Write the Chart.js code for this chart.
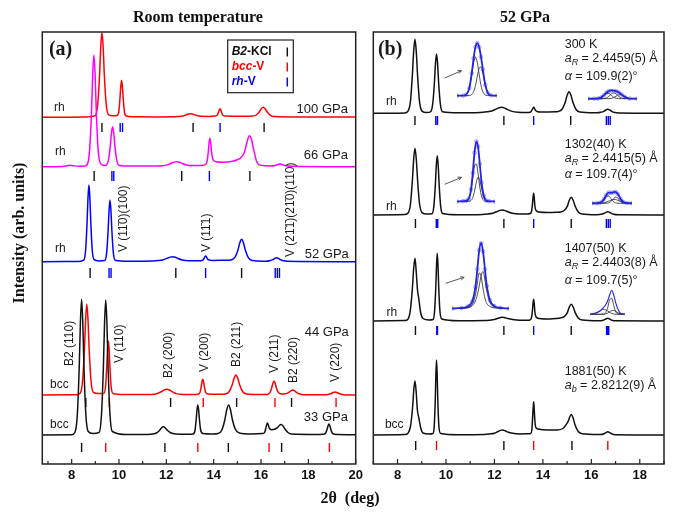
<!DOCTYPE html>
<html><head><meta charset="utf-8">
<script src="https://cdn.jsdelivr.net/npm/chart.js@4.4.1/dist/chart.umd.min.js"></script>
<style>
html,body{margin:0;padding:0;background:#fff;}
#wrap{position:relative;width:679px;height:514px;overflow:hidden;background:#fff;}
.full{position:absolute;left:0;top:0;}
.inset{position:absolute;}
</style></head><body>
<div id="wrap">
<canvas id="cA" class="full" width="679" height="514"></canvas>
<canvas id="cB" class="full" width="679" height="514"></canvas>
</div>
<script>
// ---------------- DATA ----------------
// x tick labels (2theta, deg)
const tickValsA = [8, 10, 12, 14, 16, 18, 20];
const tickValsB = [8, 10, 12, 14, 16, 18];

// Panel (a): room temperature patterns, [2theta, intensity above own baseline]
const rt100 = [[6.76,0],[8.6,0.3],[9.00,1.7],[9.10,12.8],[9.18,42.5],[9.23,70.5],[9.28,85],[9.33,70.5],[9.38,42.5],[9.46,12.8],[9.56,2.5],[9.75,1.5],[9.91,1.8],[9.99,5.5],[10.04,18.5],[10.075,30.7],[10.11,37],[10.145,30.7],[10.18,18.5],[10.23,5.5],[10.31,1.2],[10.6,0.6],[11.5,0.4],[12.3,0.6],[12.5,0.7],[12.7,1.2],[12.85,2.6],[12.95,3.3],[13.0,3.5],[13.1,3.2],[13.22,2.2],[13.45,1.0],[13.8,0.9],[14.07,1.2],[14.15,2.2],[14.2,4.8],[14.235,7.3],[14.27,8.5],[14.305,7.2],[14.34,4.5],[14.39,2],[14.5,1.2],[15.3,1],[15.64,1.2],[15.8,2.3],[15.93,5.5],[16.01,8.5],[16.09,10],[16.17,8.6],[16.25,5.8],[16.38,2.2],[16.55,0.8],[17.5,0.4],[20,0.2]];
const rt66 = [[6.76,0],[7.6,0.3],[7.8,1],[7.93,1.5],[8.06,1],[8.3,0.4],[8.55,0.8],[8.66,2.2],[8.76,16.8],[8.84,55.9],[8.89,92.7],[8.94,111.7],[8.99,92.7],[9.04,55.9],[9.12,16.8],[9.22,3],[9.35,1.5],[9.45,1.3],[9.55,6],[9.63,20],[9.68,33.2],[9.73,40],[9.78,33.2],[9.83,20],[9.91,6],[10.01,1.2],[10.5,0.6],[11.5,0.8],[11.84,1],[12.04,1.8],[12.22,3.5],[12.33,4.6],[12.44,5],[12.55,4.5],[12.66,3.3],[12.84,1.8],[13.1,1.2],[13.5,1.3],[13.64,2],[13.72,5],[13.77,14.2],[13.805,23.6],[13.84,28.4],[13.875,23.6],[13.91,14.5],[13.97,7],[14.1,5],[14.4,4.5],[14.8,5.5],[15.0,7],[15.15,9],[15.3,14.5],[15.4,24],[15.51,31],[15.6,27],[15.7,16],[15.82,5],[15.98,1.4],[16.4,0.8],[16.6,1.3],[16.8,2.7],[17.0,1.3],[17.3,0.5],[20,0]];
const rt52 = [[6.76,0],[8.3,0.3],[8.51,1.5],[8.59,11.5],[8.65,38.4],[8.69,63.7],[8.73,76.7],[8.77,63.7],[8.81,38.4],[8.87,11.5],[8.95,2],[9.15,0.8],[9.40,1.2],[9.48,9.3],[9.54,30.9],[9.58,51.2],[9.62,61.7],[9.66,51.2],[9.70,30.9],[9.76,9.3],[9.84,1.5],[10.4,0.5],[11.4,0.7],[11.67,1.2],[11.87,2],[12.05,3.6],[12.16,4.6],[12.27,5],[12.38,4.4],[12.49,3.2],[12.67,1.8],[12.95,1],[13.4,1],[13.46,1],[13.54,1.6],[13.59,3.2],[13.625,4.9],[13.66,5.7],[13.695,4.8],[13.73,3],[13.8,1.8],[13.95,1.3],[14.5,1.5],[14.73,1.7],[14.89,4],[15.02,11.2],[15.1,18.6],[15.18,22.4],[15.26,18.8],[15.34,11.5],[15.47,3.8],[15.63,1.2],[16.2,0.5],[16.37,1],[16.5,2],[16.58,3.3],[16.66,4],[16.74,3.3],[16.82,2],[16.95,0.9],[17.1,0.4],[20,0]];
const rt44 = [[6.76,0],[8.2,0.3],[8.36,1.8],[8.46,13.7],[8.54,45.5],[8.59,75.5],[8.64,91],[8.69,75.5],[8.74,45.5],[8.82,13.7],[8.92,2.5],[9.15,1.5],[9.35,1.5],[9.43,8],[9.48,27],[9.515,45],[9.55,54],[9.585,45],[9.62,27],[9.67,8],[9.75,1.5],[10.2,0.5],[11.4,0.6],[11.62,1.5],[11.8,3.5],[11.91,5.1],[12.02,5.7],[12.13,5],[12.24,3.4],[12.42,1.4],[12.7,0.6],[13.2,0.6],[13.34,0.8],[13.42,2.6],[13.47,7.9],[13.505,13],[13.54,15.7],[13.575,13],[13.61,7.9],[13.66,2.8],[13.76,1],[14.3,0.8],[14.49,1],[14.65,3.2],[14.78,10],[14.86,16.6],[14.94,20],[15.02,16.6],[15.10,10],[15.23,3.2],[15.39,1],[15.9,0.5],[16.27,0.6],[16.37,2.3],[16.45,7],[16.5,11.6],[16.55,14],[16.6,11.6],[16.65,7],[16.73,2.6],[16.83,1.2],[16.95,1],[17.05,1.4],[17.18,2.7],[17.26,4.2],[17.34,5],[17.42,4.2],[17.5,2.6],[17.63,1],[17.79,0.3],[18.6,0.2],[18.84,0.6],[18.97,1.5],[19.05,2.5],[19.13,3],[19.21,2.5],[19.29,1.5],[19.42,0.5],[19.58,0.1],[20,0]];
const rt33 = [[6.76,0],[8.0,0.3],[8.14,2.7],[8.24,20.4],[8.32,67.9],[8.37,112.6],[8.42,135.7],[8.47,112.6],[8.52,67.9],[8.60,20.4],[8.70,3.5],[8.9,1.5],[9.16,2.7],[9.26,20.3],[9.34,67.5],[9.39,112],[9.44,135],[9.49,112],[9.54,67.5],[9.62,20.3],[9.72,3.5],[10.3,0.5],[11.2,0.6],[11.42,1],[11.58,2],[11.71,4.5],[11.79,7],[11.87,8.3],[11.95,7.2],[12.03,5],[12.16,2.5],[12.4,1],[12.9,0.8],[13.13,1],[13.21,4.5],[13.26,15],[13.295,25],[13.33,30],[13.365,25],[13.40,15],[13.45,5],[13.55,1.5],[14.0,1],[14.18,1.5],[14.34,4.8],[14.47,15],[14.55,25],[14.63,30],[14.71,25.2],[14.79,15.5],[14.92,5.5],[15.08,2],[15.6,1],[16.07,1.4],[16.15,2.5],[16.2,6.5],[16.235,10],[16.27,12],[16.305,10.3],[16.35,6.8],[16.45,5.3],[16.6,6],[16.72,8],[16.78,9.8],[16.85,10.5],[16.93,9],[17.01,6],[17.14,2.5],[17.3,1],[18.2,0.6],[18.65,0.8],[18.73,2],[18.79,5.5],[18.83,9.1],[18.87,11],[18.91,9.1],[18.95,5.5],[19.01,2],[19.09,0.8],[20,0.3]];

// Panel (b): 52 GPa patterns at several temperatures
const hp300 = [[7,0],[8.3,0.4],[8.42,1.8],[8.53,11.1],[8.61,37],[8.665,61.4],[8.72,74],[8.775,61.4],[8.83,37],[8.91,11.1],[9.02,2],[9.2,0.8],[9.36,1.5],[9.45,8.9],[9.52,29.6],[9.565,49.2],[9.61,59.3],[9.655,49.2],[9.70,29.6],[9.77,8.9],[9.86,1.5],[10.5,0.5],[11.4,0.8],[11.69,1.5],[11.89,2.3],[12.07,4.2],[12.18,5.4],[12.29,6],[12.4,5.4],[12.51,4],[12.69,2.2],[12.97,1],[13.35,0.8],[13.42,0.8],[13.5,1.4],[13.55,3.3],[13.585,5],[13.62,6],[13.655,5],[13.69,3.2],[13.76,1.8],[13.95,1.2],[14.5,1.5],[14.63,1.8],[14.79,4],[14.92,10.8],[15.0,17.9],[15.08,21.6],[15.16,18],[15.24,11],[15.37,3.8],[15.53,1.2],[16.1,0.5],[16.23,0.5],[16.39,1],[16.52,2],[16.6,3.3],[16.68,4],[16.76,3.3],[16.84,2],[16.97,0.8],[17.13,0.3],[19,0]];
const hp1302 = [[7,0],[8.3,0.4],[8.42,1.7],[8.53,10],[8.61,33.4],[8.665,55.4],[8.72,66.7],[8.775,55.6],[8.83,34],[8.91,11],[9.02,2.2],[9.2,1],[9.42,1.2],[9.50,8.9],[9.56,29.6],[9.60,49.2],[9.64,59.3],[9.68,49.2],[9.72,29.6],[9.78,8.9],[9.86,1.5],[10.5,0.3],[11.5,0.6],[11.73,1],[11.93,1.8],[12.11,3.5],[12.22,4.6],[12.33,5],[12.44,4.4],[12.55,3.2],[12.73,1.8],[13.0,1],[13.35,1],[13.47,1.5],[13.53,3.5],[13.57,10.9],[13.595,18],[13.62,21.7],[13.645,17],[13.67,9],[13.72,4.5],[13.85,3],[14.2,2.5],[14.6,2.8],[14.72,3],[14.88,4.5],[15.01,8.9],[15.09,14.7],[15.17,17.7],[15.25,14.8],[15.33,9],[15.46,3],[15.62,1],[16.2,0.3],[16.45,0.9],[16.55,1.9],[16.62,2.9],[16.68,3.3],[16.74,2.9],[16.81,1.8],[16.92,0.7],[17.1,0.2],[19,0]];
const hp1407 = [[7,0],[8.3,0.4],[8.42,1.5],[8.52,9.4],[8.61,31.4],[8.665,52],[8.72,62.7],[8.77,50],[8.82,32],[8.88,22],[8.95,9],[9.05,2.5],[9.3,1],[9.47,1.5],[9.53,10],[9.58,34],[9.61,56],[9.64,67.7],[9.67,56],[9.70,34],[9.75,10],[9.83,2],[10.5,0.3],[11.6,0.5],[11.8,0.8],[12.0,1.5],[12.15,2.7],[12.25,3.4],[12.33,3.7],[12.44,3.3],[12.55,2.5],[12.75,1.5],[13.05,0.8],[13.4,0.8],[13.47,1.2],[13.53,3.2],[13.57,10.9],[13.595,18],[13.62,21.7],[13.645,17],[13.67,9],[13.72,4],[13.85,2.5],[14.3,2],[14.6,2.6],[14.72,3],[14.88,4.4],[15.01,8.4],[15.09,13.9],[15.17,16.7],[15.25,14],[15.33,8.6],[15.46,3],[15.62,1],[16.3,0.3],[16.4,0.3],[16.52,1],[16.6,2],[16.68,2.7],[16.76,2],[16.85,0.8],[17.0,0.2],[19,0]];
const hp1881 = [[7,0],[8.3,0.4],[8.42,1.5],[8.53,8],[8.62,27],[8.67,45],[8.72,54],[8.77,43],[8.82,25],[8.88,17],[8.95,8],[9.05,2],[9.3,1],[9.46,1.5],[9.51,7],[9.56,37],[9.585,62],[9.61,75],[9.635,62],[9.66,37],[9.71,8],[9.78,1.5],[10.5,0.3],[11.6,0.5],[11.8,1],[12.0,1.8],[12.15,3.5],[12.25,4.6],[12.33,5],[12.44,4.3],[12.55,3],[12.75,1.7],[13.05,1],[13.4,1.2],[13.49,1.5],[13.54,4],[13.575,16.6],[13.6,27.6],[13.62,33.3],[13.64,27],[13.665,16],[13.7,8],[13.8,6],[14.2,5],[14.6,5],[14.85,7],[14.95,10],[15.05,14],[15.1,17.5],[15.17,20.6],[15.25,17],[15.33,10],[15.46,3.5],[15.62,1.2],[16.3,0.4],[16.4,0.4],[16.52,1.2],[16.6,2.4],[16.68,3.3],[16.76,2.4],[16.85,1],[17.0,0.3],[19,0]];

// waterfall offsets (stacking) of each pattern
const offsetA = [346.7, 297.3, 202.3, 69, 29];
const offsetB = [350.7, 249, 143, 29];

// reflection positions (2theta) : B2-KCl, bcc-V, rh-V
const kcl100 = [9.28, 13.13, 16.13];  const rhV100 = [10.05, 10.15, 14.27];
const kcl66  = [8.95, 12.65, 15.53];  const rhV66  = [9.70, 9.78, 13.82];
const kcl52  = [8.78, 12.40, 15.18];  const rhV52  = [9.58, 9.665, 13.66, 16.60, 16.69, 16.78];
const kcl44  = [8.60, 12.18, 14.97, 17.29]; const bccV44 = [9.59, 13.56, 16.59, 19.17];
const kcl33  = [8.42, 11.94, 14.62, 16.87]; const bccV33 = [9.44, 13.33, 16.34, 18.89];
const kcl300  = [8.72, 12.39, 15.15]; const rhV300  = [9.58, 9.65, 13.62, 16.62, 16.70, 16.78];
const kcl1302 = [8.74, 12.39, 15.17]; const rhV1302 = [9.60, 9.66, 13.62, 16.62, 16.70, 16.78];
const kcl1407 = [8.74, 12.39, 15.17]; const rhV1407 = [9.62, 9.65, 13.62, 16.63, 16.67, 16.72];
const kcl1881 = [8.75, 12.39, 15.20]; const bccV1881 = [9.61, 13.62, 16.68];

// insets: profile fits (2theta, intensity) : envelope (obs/fit) and components
const inX1 = [9.30,9.40,9.45,9.50,9.54,9.57,9.60,9.63,9.66,9.69,9.72,9.76,9.80,9.85,9.95];
const inEnv1 = [0,0,1.1,8.7,26.1,43.4,56.8,61.3,56.6,45.2,30.4,12.5,3.2,0.3,0];
const inC1a = [0,0,1.1,8.7,24.8,38.8,45,38.8,24.8,11.8,4.2,0.7,0,0,0];
const inC1b = [0,0,0,0,1.3,4.6,11.8,22.5,31.8,33.4,26.2,11.8,3.2,0.3,0];
const inX2 = [16.30,16.40,16.46,16.51,16.56,16.60,16.64,16.68,16.72,16.76,16.80,16.85,16.90,16.98,17.10];
const inEnv2 = [0,0,0.3,1.9,6.4,10.9,13.9,15,14.9,13.7,11.5,7.6,3.2,0.2,0];
const inC2a = [0,0,0.3,1.9,6.1,9.5,9.5,6.1,2.5,0.7,0.1,0,0,0,0];
const inC2b = [0,0,0,0,0.3,1.4,4.3,8.4,10.5,8.4,4.3,1,0.1,0,0];
const inC2c = [0,0,0,0,0,0,0.1,0.5,1.9,4.6,7.1,6.6,3.1,0.2,0];
const inX3 = [9.30,9.40,9.45,9.50,9.54,9.57,9.60,9.63,9.66,9.69,9.72,9.76,9.80,9.85,9.95];
const inEnv3 = [0,0.3,0.8,3,14,33,56,69,63,43,22,6,1.2,0.3,0];
const inC3a = [0,0,0.1,2.5,12.2,26.7,40.6,43.1,32,16.5,5.9,0.9,0,0,0];
const inC3b = [0,0,0,0,1.2,4.6,12,21.9,28,24.7,15.3,4.6,0.7,0,0];
const inX4 = [16.35,16.43,16.48,16.52,16.56,16.60,16.64,16.68,16.72,16.76,16.80,16.85,16.90,16.96,17.05];
const inEnv4 = [0,0,0.5,2.2,6.8,13,17,16.6,17.2,18.2,15,7,2,0.4,0];
const inC4a = [0,0,0.3,1.6,5.2,10.1,11.6,7.7,3.1,0.7,0.1,0,0,0,0];
const inC4b = [0,0,0,0,0,0.1,0.6,2.6,6.6,9.8,8.6,3.5,0.6,0,0];
const inC4c = [0,0,0.1,0.3,0.8,1.8,3.3,4.8,5.9,5.9,4.8,2.8,1.2,0.3,0];
const inX5 = [9.20,9.35,9.45,9.52,9.57,9.60,9.63,9.66,9.69,9.72,9.75,9.80,9.87,9.97,10.10];
const inEnv5 = [0.3,0.9,2.7,8.5,25,45,67,75,65.5,45,26,9.5,3,1,0.3];
const inC5a = [0.2,0.5,1.5,5,16,29,41,37,23,12,6,2.5,1,0.4,0.1];
const inC5b = [0.1,0.4,1.2,3.5,9,16,26,38,42.5,33,20,7,2,0.6,0.2];
const inX6 = [16.45,16.52,16.57,16.61,16.64,16.67,16.70,16.73,16.76,16.79,16.82,16.85,16.88,16.92,16.95];
const inEnv6 = [0,1,2.5,4.5,6.5,9,13,19,24,19,11,5,1.5,0.3,0];
const inC6a = [0,0,0,0,0.1,1.2,6,14.2,16,8.7,2.2,0.3,0,0,0];
const inC6b = [0,0.5,2,4,4.9,4.7,3.5,2,0.9,0.3,0.1,0,0,0,0];
const inC6c = [0,0,0,0,0.1,0.4,1.1,2.4,3.7,3.9,2.9,1.5,0.5,0.1,0];

// ---------------- STYLE / LAYOUT ----------------
const RED = '#ff0000', MAG = '#ff00ff', BLUE = '#0000ff', BLK = '#111111';
const SANS = '"Liberation Sans", Arial, sans-serif';
const SERIF = '"Liberation Serif", "Times New Roman", serif';
const rowsA = [[332,341],[283,293],[186,196],[57,66],[12,21]];
const rowsB = [[339,348],[236,245],[129,138],[14,23]];
Chart.defaults.font.family = SANS;

function mkTrace(arr, off, color, order) {
  return { data: arr.map(p => ({x: p[0], y: p[1] + off})), borderColor: color, borderWidth: 1.5,
    pointRadius: 0, cubicInterpolationMode: 'monotone', fill: false, order: order };
}
function mkRefl(pos, row, color) {
  const d = [];
  pos.forEach(p => { d.push({x: p, y: row[0]}, {x: p, y: row[1]}, {x: p, y: null}); });
  return { data: d, borderColor: color, borderWidth: 1.4, pointRadius: 0, spanGaps: false, tension: 0, order: 20 };
}

function drawRich(ctx, segs, px, py) {
  let cx = px;
  segs.forEach(sg => { ctx.font = sg.f; ctx.fillText(sg.s, cx, py + (sg.dy || 0)); cx += ctx.measureText(sg.s).width; });
}

function decoPlugin(id, texts, extra) {
  return {
    id: id,
    afterDatasetsDraw(chart) {
      const ctx = chart.ctx, ca = chart.chartArea, xs = chart.scales.x, ys = chart.scales.y;
      ctx.save();
      ctx.strokeStyle = '#222'; ctx.lineWidth = 1.5;
      ctx.strokeRect(ca.left, ca.top, ca.right - ca.left, ca.bottom - ca.top);
      ctx.lineWidth = 1.2;
      for (let v = Math.ceil(xs.min); v <= xs.max; v++) {
        const px = xs.getPixelForValue(v);
        const len = v % 2 === 0 ? 5 : 3;
        ctx.beginPath(); ctx.moveTo(px, ca.bottom); ctx.lineTo(px, ca.bottom - len); ctx.stroke();
      }
      ctx.fillStyle = '#1a1a1a';
      texts.forEach(t => {
        const px = xs.getPixelForValue(t.x), py = ys.getPixelForValue(t.y);
        ctx.save();
        ctx.translate(px, py);
        if (t.rot) ctx.rotate(-Math.PI / 2);
        ctx.textAlign = t.align || 'left';
        ctx.textBaseline = t.rot ? 'middle' : 'alphabetic';
        ctx.fillStyle = t.color || '#1a1a1a';
        if (t.segs) drawRich(ctx, t.segs, 0, 0);
        else { ctx.font = t.f; ctx.fillText(t.s, 0, 0); }
        ctx.restore();
      });
      if (extra) extra(chart, ctx, ca, xs, ys);
      ctx.restore();
    }
  };
}

const f12 = '12px ' + SANS, f13 = '13px ' + SANS, fr = '12px ' + SANS, fb = '12.5px ' + SANS;
const textsA = [
  {s:'(a)', x:7.04, y:409, f:'bold 20px ' + SERIF},
  {s:'rh', x:7.25, y:353, f:f12}, {s:'100 GPa', x:19.67, y:351, f:f13, align:'right'},
  {s:'rh', x:7.30, y:309, f:f12}, {s:'66 GPa', x:19.67, y:305, f:f13, align:'right'},
  {s:'rh', x:7.30, y:212, f:f12}, {s:'52 GPa', x:19.71, y:206, f:f13, align:'right'},
  {s:'bcc', x:7.09, y:76, f:f12}, {s:'44 GPa', x:19.71, y:128, f:f13, align:'right'},
  {s:'bcc', x:7.09, y:36, f:f12}, {s:'33 GPa', x:19.67, y:43, f:f13, align:'right'},
  {s:'V (1\u0031\u03040)(100)', x:10.21, y:212, f:fr, rot:true},
  {s:'V (1\u0031\u03041)', x:13.72, y:212, f:fr, rot:true},
  {s:'V (2\u0031\u03041\u0304)(2\u0031\u03040)(110)', x:17.27, y:207, f:fr, rot:true},
  {s:'B2 (110)', x:7.93, y:98, f:fr, rot:true},
  {s:'V (110)', x:10.04, y:101, f:fr, rot:true},
  {s:'B2 (200)', x:12.11, y:86, f:fr, rot:true},
  {s:'V (200)', x:13.63, y:92, f:fr, rot:true},
  {s:'B2 (211)', x:14.98, y:97, f:fr, rot:true},
  {s:'V (211)', x:16.59, y:91, f:fr, rot:true},
  {s:'B2 (220)', x:17.39, y:81, f:fr, rot:true},
  {s:'V (220)', x:19.17, y:82, f:fr, rot:true}
];
function aLine(sub, val) {
  return [{s:'a', f:'italic ' + fb}, {s:sub, f:'italic 9px ' + SANS, dy:3}, {s:' = ' + val + ' \u00c5', f:fb}];
}
function alLine(val) { return [{s:'\u03b1', f:'italic ' + fb}, {s:' = ' + val + '\u00b0', f:fb}]; }
const textsB = [
  {s:'(b)', x:7.19, y:409, f:'bold 20px ' + SERIF},
  {s:'rh', x:7.52, y:359, f:f12}, {s:'rh', x:7.52, y:254, f:f12}, {s:'rh', x:7.55, y:148, f:f12}, {s:'bcc', x:7.48, y:36, f:f12},
  {s:'300 K', x:14.90, y:416, f:fb}, {segs:aLine('R','2.4459(5)'), x:14.90, y:402}, {segs:alLine('109.9(2)'), x:14.90, y:384},
  {s:'1302(40) K', x:14.90, y:316, f:fb}, {segs:aLine('R','2.4415(5)'), x:14.90, y:302}, {segs:alLine('109.7(4)'), x:14.90, y:286},
  {s:'1407(50) K', x:14.90, y:212, f:fb}, {segs:aLine('R','2.4403(8)'), x:14.90, y:198}, {segs:alLine('109.7(5)'), x:14.90, y:180},
  {s:'1881(50) K', x:14.90, y:89, f:fb}, {segs:aLine('b','2.8212(9)'), x:14.90, y:75}
];
const arrowsB = [[9.95,386,10.64,393.3],[9.95,279.7,10.64,286.7],[9.99,180.7,10.75,186.7]];

function pageTexts(ctx) {
  ctx.fillStyle = '#111';
  ctx.textAlign = 'center'; ctx.textBaseline = 'alphabetic';
  ctx.font = 'bold 16px ' + SERIF;
  ctx.fillText('Room temperature', 198, 22);
  ctx.fillText('2\u03b8  (deg)', 350, 503);
  ctx.save(); ctx.translate(24, 233); ctx.rotate(-Math.PI / 2);
  ctx.fillText('Intensity (arb. units)', 0, 0); ctx.restore();
}

function legendA(chart, ctx, ca) {
  const lx = ca.left + 185.4, ly = ca.top + 8, w = 65.6, h = 52.7;
  ctx.strokeStyle = '#222'; ctx.lineWidth = 1.2; ctx.strokeRect(lx, ly, w, h);
  const rows = [['B2', '-KCl', BLK], ['bcc', '-V', RED], ['rh', '-V', BLUE]];
  ctx.textAlign = 'left'; ctx.textBaseline = 'middle';
  rows.forEach((r, i) => {
    const cy = ly + 12 + i * 15;
    ctx.fillStyle = r[2];
    drawRich(ctx, [{s:r[0], f:'italic bold 12px ' + SANS}, {s:r[1], f:'bold 12px ' + SANS}], lx + 4, cy);
    ctx.strokeStyle = r[2]; ctx.lineWidth = 1.5;
    ctx.beginPath(); ctx.moveTo(lx + 59.6, cy - 4.5); ctx.lineTo(lx + 59.6, cy + 4.5); ctx.stroke();
  });
  ctx.textBaseline = 'alphabetic';
  pageTexts(ctx);
}

function extraB(chart, ctx, ca, xs, ys) {
  ctx.strokeStyle = '#444'; ctx.fillStyle = '#444'; ctx.lineWidth = 0.9;
  arrowsB.forEach(a => {
    const x0 = xs.getPixelForValue(a[0]), y0 = ys.getPixelForValue(a[1]);
    const x1 = xs.getPixelForValue(a[2]), y1 = ys.getPixelForValue(a[3]);
    ctx.beginPath(); ctx.moveTo(x0, y0); ctx.lineTo(x1, y1); ctx.stroke();
    const ang = Math.atan2(y1 - y0, x1 - x0);
    ctx.beginPath(); ctx.moveTo(x1, y1);
    ctx.lineTo(x1 - 4 * Math.cos(ang - 0.45), y1 - 4 * Math.sin(ang - 0.45));
    ctx.moveTo(x1, y1);
    ctx.lineTo(x1 - 4 * Math.cos(ang + 0.45), y1 - 4 * Math.sin(ang + 0.45));
    ctx.stroke();
  });
  ctx.fillStyle = '#111'; ctx.textAlign = 'center';
  ctx.font = 'bold 16px ' + SERIF;
  ctx.fillText('52 GPa', 525, 22);
}

function xScale(min, max, ticks) {
  return { type: 'linear', min: min, max: max, grid: {display: false, drawTicks: false, tickLength: 0}, border: {display: false},
    afterBuildTicks: s => { s.ticks = ticks.map(v => ({value: v})); },
    ticks: { font: {family: SANS, size: 13, weight: 'bold'}, color: '#111', padding: 4, maxRotation: 0, autoSkip: false } };
}
const baseOpts = (pad, xmin, xmax, ticks) => ({
  responsive: false, animation: false, events: [],
  layout: { padding: pad },
  scales: { x: xScale(xmin, xmax, ticks), y: { type: 'linear', display: false, min: 0, max: 432 } },
  plugins: { legend: {display: false}, tooltip: {enabled: false}, title: {display: false} }
});

new Chart(document.getElementById('cA'), {
  type: 'line',
  data: { datasets: [
    mkTrace(rt100, offsetA[0], RED, 5), mkTrace(rt66, offsetA[1], MAG, 4), mkTrace(rt52, offsetA[2], BLUE, 3),
    mkTrace(rt44, offsetA[3], RED, 2), mkTrace(rt33, offsetA[4], BLK, 1),
    mkRefl(kcl100, rowsA[0], BLK), mkRefl(rhV100, rowsA[0], BLUE),
    mkRefl(kcl66, rowsA[1], BLK), mkRefl(rhV66, rowsA[1], BLUE),
    mkRefl(kcl52, rowsA[2], BLK), mkRefl(rhV52, rowsA[2], BLUE),
    mkRefl(kcl44, rowsA[3], BLK), mkRefl(bccV44, rowsA[3], RED),
    mkRefl(kcl33, rowsA[4], BLK), mkRefl(bccV33, rowsA[4], RED)
  ]},
  options: baseOpts({left: 42.3, right: 323.3, top: 32, bottom: 26.4}, 6.76, 20, tickValsA),
  plugins: [decoPlugin('decoA', textsA, legendA)]
});

new Chart(document.getElementById('cB'), {
  type: 'line',
  data: { datasets: [
    mkTrace(hp300, offsetB[0], BLK, 1), mkTrace(hp1302, offsetB[1], BLK, 1),
    mkTrace(hp1407, offsetB[2], BLK, 1), mkTrace(hp1881, offsetB[3], BLK, 1),
    mkRefl(kcl300, rowsB[0], BLK), mkRefl(rhV300, rowsB[0], BLUE),
    mkRefl(kcl1302, rowsB[1], BLK), mkRefl(rhV1302, rowsB[1], BLUE),
    mkRefl(kcl1407, rowsB[2], BLK), mkRefl(rhV1407, rowsB[2], BLUE),
    mkRefl(kcl1881, rowsB[3], BLK), mkRefl(bccV1881, rowsB[3], RED)
  ]},
  options: baseOpts({left: 373.3, right: 15, top: 32, bottom: 26.4}, 7, 19, tickValsB),
  plugins: [decoPlugin('decoB', textsB, extraB)]
});

// insets
const insets = [
  {box:[452, 34, 50, 70], y:[-4, 66], xr:[9.30, 9.95], x:inX1, env:inEnv1, comps:[inC1a, inC1b], circ:true},
  {box:[583, 84, 59, 22], y:[-4.3, 17.7], xr:[16.30, 17.10], x:inX2, env:inEnv2, comps:[inC2a, inC2b, inC2c], circ:true},
  {box:[452, 132, 48, 78], y:[-4, 74], xr:[9.30, 9.95], x:inX3, env:inEnv3, comps:[inC3a, inC3b], circ:true},
  {box:[587, 184, 50, 27], y:[-4.3, 22.7], xr:[16.35, 17.05], x:inX4, env:inEnv4, comps:[inC4a, inC4b, inC4c], circ:true},
  {box:[447, 236, 67, 81], y:[-3.7, 77.3], xr:[9.20, 10.10], x:inX5, env:inEnv5, comps:[inC5a, inC5b], circ:true},
  {box:[590, 286, 35, 32], y:[-3.7, 28.3], xr:[16.45, 16.95], x:inX6, env:inEnv6, comps:[inC6a, inC6b, inC6c], circ:false}
];
const wrap = document.getElementById('wrap');
insets.forEach(ins => {
  const c = document.createElement('canvas');
  c.className = 'inset';
  c.width = ins.box[2]; c.height = ins.box[3];
  c.style.left = ins.box[0] + 'px'; c.style.top = ins.box[1] + 'px';
  wrap.appendChild(c);
  const ds = [];
  ins.comps.forEach(cp => ds.push({ data: ins.x.map((v, i) => ({x: v, y: cp[i]})), borderColor: '#3a3a3a', borderWidth: 0.9,
    pointRadius: 0, cubicInterpolationMode: 'monotone', order: 2 }));
  ds.push({ data: ins.x.map((v, i) => ({x: v, y: ins.env[i]})), borderColor: '#2323e6', borderWidth: ins.circ ? 1.8 : 1.1,
    pointRadius: 0, cubicInterpolationMode: 'monotone', order: 1 });
  if (ins.circ) ds.push({ data: ins.x.map((v, i) => ({x: v, y: ins.env[i]})), showLine: false, borderColor: 'rgba(110,110,240,0.6)',
    backgroundColor: 'rgba(0,0,0,0)', borderWidth: 1, pointRadius: 1.8, order: 3 });
  new Chart(c, {
    type: 'line', data: { datasets: ds },
    options: { responsive: false, animation: false, events: [], layout: {padding: 0},
      scales: { x: {type: 'linear', display: false, min: ins.xr[0], max: ins.xr[1]}, y: {type: 'linear', display: false, min: ins.y[0], max: ins.y[1]} },
      plugins: { legend: {display: false}, tooltip: {enabled: false} } }
  });
});
</script>
</body></html>
